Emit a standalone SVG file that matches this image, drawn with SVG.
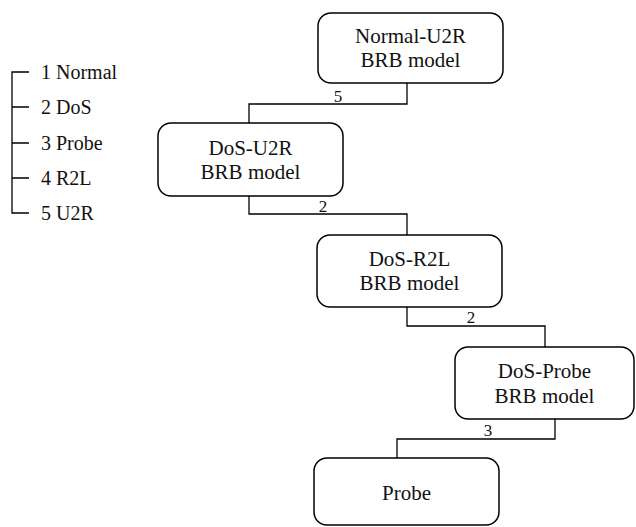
<svg xmlns="http://www.w3.org/2000/svg" width="636" height="527" viewBox="0 0 636 527">
<style>
.box{fill:#fff;stroke:#000;stroke-width:1.5}
.t{font-size:21px;text-anchor:middle}
.lg{font-size:20px}
.lb{font-size:17px;text-anchor:middle}
.c{fill:none;stroke:#000;stroke-width:1.3}
</style>
<rect width="636" height="527" fill="#fff"/>
<g font-family="Liberation Serif, serif" fill="#111">
<g id="legend">
<path class="c" d="M29,72 H12 V213 H29 M12,107 H29 M12,143 H29 M12,178 H29"/>
<text class="lg" x="41" y="79">1 Normal</text>
<text class="lg" x="41" y="114">2 DoS</text>
<text class="lg" x="41" y="150">3 Probe</text>
<text class="lg" x="41" y="185">4 R2L</text>
<text class="lg" x="41" y="220">5 U2R</text>
</g>
<g id="connectors">
<path class="c" d="M407,83 V104 H249 V123"/>
<path class="c" d="M249,196 V214 H407 V235"/>
<path class="c" d="M407,307 V326 H545 V347"/>
<path class="c" d="M555,419 V439 H397 V458"/>
<text class="lb" x="338" y="102">5</text>
<text class="lb" x="323" y="212">2</text>
<text class="lb" x="471" y="323">2</text>
<text class="lb" x="488" y="436">3</text>
</g>
<g id="n1">
<rect class="box" x="318" y="13" width="185" height="70" rx="13"/>
<text class="t" x="410.5" y="43">Normal-U2R</text>
<text class="t" x="410.5" y="67">BRB model</text>
</g>
<g id="n2">
<rect class="box" x="158" y="123" width="185" height="73" rx="13"/>
<text class="t" x="250.5" y="155">DoS-U2R</text>
<text class="t" x="250.5" y="179">BRB model</text>
</g>
<g id="n3">
<rect class="box" x="317" y="235" width="185" height="72" rx="13"/>
<text class="t" x="409.5" y="266">DoS-R2L</text>
<text class="t" x="409.5" y="290">BRB model</text>
</g>
<g id="n4">
<rect class="box" x="455" y="347" width="179" height="72" rx="13"/>
<text class="t" x="544.5" y="378">DoS-Probe</text>
<text class="t" x="544.5" y="403">BRB model</text>
</g>
<g id="n5">
<rect class="box" x="314" y="458" width="185" height="67" rx="13"/>
<text class="t" x="406.5" y="500">Probe</text>
</g>
</g>
</svg>
